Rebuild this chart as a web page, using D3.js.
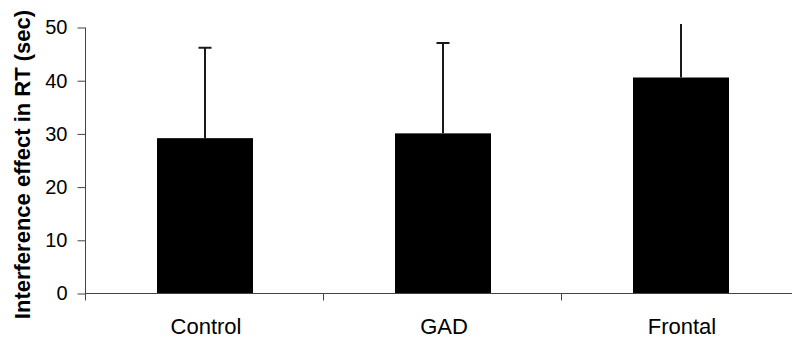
<!DOCTYPE html>
<html>
<head>
<meta charset="utf-8">
<script src="https://cdn.jsdelivr.net/npm/d3@7"></script>
<style>
  html, body { margin: 0; padding: 0; background: #fff; }
  svg { display: block; }
  text { font-family: Arial, "Liberation Sans", sans-serif; fill: #000; }
</style>
</head>
<body>
<svg id="chart" width="792" height="338"></svg>
<script>
// Interference effect in reaction time by group (mean and SD)
const groups = ["Control", "GAD", "Frontal"];
const means = [29.2, 30.1, 40.6];
const sds = [17.0, 17.0, 12.0];
const yTicks = [0, 10, 20, 30, 40, 50];
const yTitle = "Interference effect in RT (sec)";

const svg = d3.select("#chart");
const W = 792, H = 338;
const m = { left: 86, top: 27.5, bottom: 293.5, right: 800 };

const y = d3.scaleLinear().domain([0, 50]).range([m.bottom, m.top]);
const x = d3.scaleBand().domain(groups).range([m.left, m.right]).padding(0);
const barW = 96;

// plot clip: the drawing area ends a little above the top tick
svg.append("defs").append("clipPath").attr("id", "plotClip")
  .append("rect").attr("x", m.left).attr("y", 24).attr("width", W - m.left).attr("height", m.bottom - 24);

const data = groups.map((g, i) => ({ g, mean: means[i], sd: sds[i] }));

// bars
svg.append("g").selectAll("rect").data(data).join("rect")
  .attr("x", d => x(d.g) + x.bandwidth() / 2 - barW / 2)
  .attr("y", d => y(d.mean))
  .attr("width", barW)
  .attr("height", d => y(0) - y(d.mean))
  .attr("fill", "#000");

// error bars (upper only)
const eb = svg.append("g").attr("clip-path", "url(#plotClip)")
  .attr("stroke", "#1a1a1a").attr("stroke-width", 2);
data.forEach(d => {
  const cx = Math.round(x(d.g) + x.bandwidth() / 2);
  eb.append("line").attr("x1", cx).attr("x2", cx)
    .attr("y1", y(d.mean)).attr("y2", y(d.mean + d.sd));
  eb.append("line").attr("x1", cx - 6.5).attr("x2", cx + 6.5)
    .attr("y1", y(d.mean + d.sd)).attr("y2", y(d.mean + d.sd));
});

// y axis
const yAxis = svg.append("g").attr("transform", `translate(${m.left - 0.5},0)`)
  .call(d3.axisLeft(y).tickValues(yTicks).tickSize(8).tickPadding(10).tickFormat(d3.format("d")));
yAxis.select(".domain").attr("d", `M0,${m.top}V${m.bottom + 7}`).attr("stroke", "#444");
yAxis.selectAll(".tick line").attr("stroke", "#444");
yAxis.selectAll(".tick text").attr("font-size", 20).attr("font-family", "Arial, 'Liberation Sans', sans-serif").attr("fill", "#000");

// x axis
const xAxis = svg.append("g").attr("transform", `translate(0,${m.bottom})`);
xAxis.append("line").attr("x1", m.left).attr("x2", W).attr("y1", 0).attr("y2", 0).attr("stroke", "#444");
xAxis.selectAll("line.tk").data(groups).join("line").attr("class", "tk")
  .attr("x1", d => x(d) + x.bandwidth() - 0.5).attr("x2", d => x(d) + x.bandwidth() - 0.5)
  .attr("y1", 0).attr("y2", 7).attr("stroke", "#444");
xAxis.selectAll("text").data(groups).join("text")
  .attr("x", d => x(d) + x.bandwidth() / 2 + 1)
  .attr("y", 40)
  .attr("text-anchor", "middle")
  .attr("font-size", 22)
  .text(d => d);

// y title
svg.append("text")
  .attr("transform", `translate(30,${(m.top + m.bottom) / 2 + 4}) rotate(-90)`)
  .attr("text-anchor", "middle")
  .attr("font-size", 22)
  .attr("font-weight", "bold")
  .text(yTitle);
</script>
</body>
</html>
